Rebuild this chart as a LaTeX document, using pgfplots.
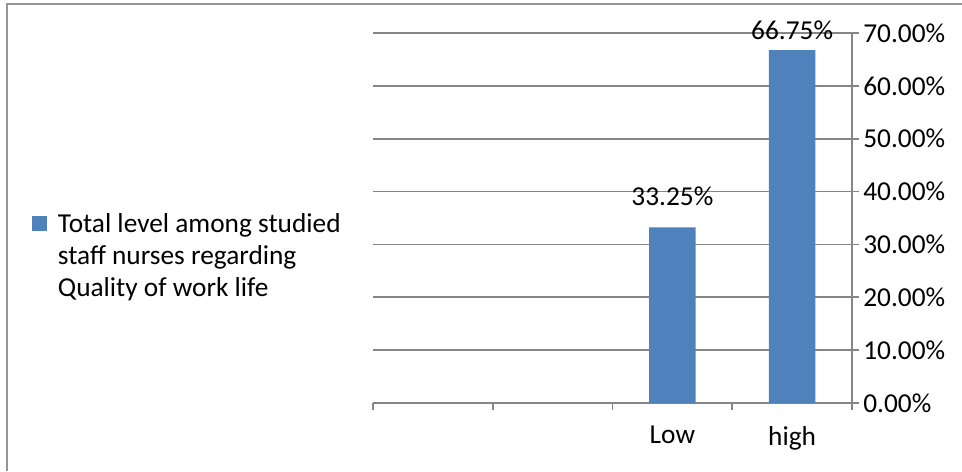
\documentclass[border=0pt]{standalone}
\usepackage{pgfplots}
\pgfplotsset{compat=1.18}
\usepackage{fontspec}
\setmainfont{Carlito}
\definecolor{barblue}{RGB}{79,129,189}
\definecolor{gridgray}{RGB}{134,134,134}
\definecolor{framegray}{RGB}{150,150,150}
\begin{document}
\begin{tikzpicture}[x=0.75pt,y=0.75pt]
\useasboundingbox (0,0) rectangle (962,471);
\draw[framegray, line width=1.5pt] (7,0) -- (7,467) -- (962,467);
\begin{axis}[
  at={(279.75pt,51pt)}, anchor=south west,
  scale only axis, width=359.25pt, height=277.5pt,
  xmin=-0.5, xmax=3.5, ymin=0, ymax=70,
  axis x line=bottom, axis y line=right,
  axis line style={-, gridgray, line width=1.2pt},
  xtick={-0.5,0.5,1.5,2.5,3.5}, xticklabels={},
  extra x ticks={2,3}, extra x tick labels={Low,high},
  extra x tick style={major tick length=0pt, xmajorgrids=false,
    tick label style={yshift=-14pt}},
  ytick={0,10,20,30,40,50,60,70},
  yticklabels={0.00\%,10.00\%,20.00\%,30.00\%,40.00\%,50.00\%,60.00\%,70.00\%},
  ymajorgrids, grid style={gridgray, line width=1.2pt},
  tick align=outside, major tick length=5pt,
  tick style={gridgray, line width=1.2pt},
  ticklabel style={font=\fontsize{20.5}{24}\selectfont, text=black},
  ybar, bar width=0.39,
  legend style={draw=none, fill=none, inner sep=0pt, nodes={inner sep=0pt},
    column sep=8pt, at={(rel axis cs:-0.712,0.484)}, anchor=west},
  legend image code/.code={\fill[barblue] (0pt,-5.5pt) rectangle (11.25pt,5.75pt);},
  /pgf/number format/assume math mode=true,
]
\addplot[fill=barblue, draw=none,
  nodes near coords={\pgfmathprintnumber[fixed,fixed zerofill,precision=2]{\pgfplotspointmeta}\%},
  visualization depends on={\thisrow{off} \as \labeloff},
  every node near coord/.append style={anchor=center, yshift=\labeloff pt,
    font=\fontsize{20.5}{24}\selectfont, text=black},
] table[x=x, y=y] {
x y off
2 33.25 22.9
3 66.75 15
};
\addlegendentry{\parbox[t]{240pt}{\fontsize{20.5}{24}\selectfont Total level among studied\\staff nurses regarding\\Quality of work life}}
\end{axis}
\end{tikzpicture}
\end{document}
